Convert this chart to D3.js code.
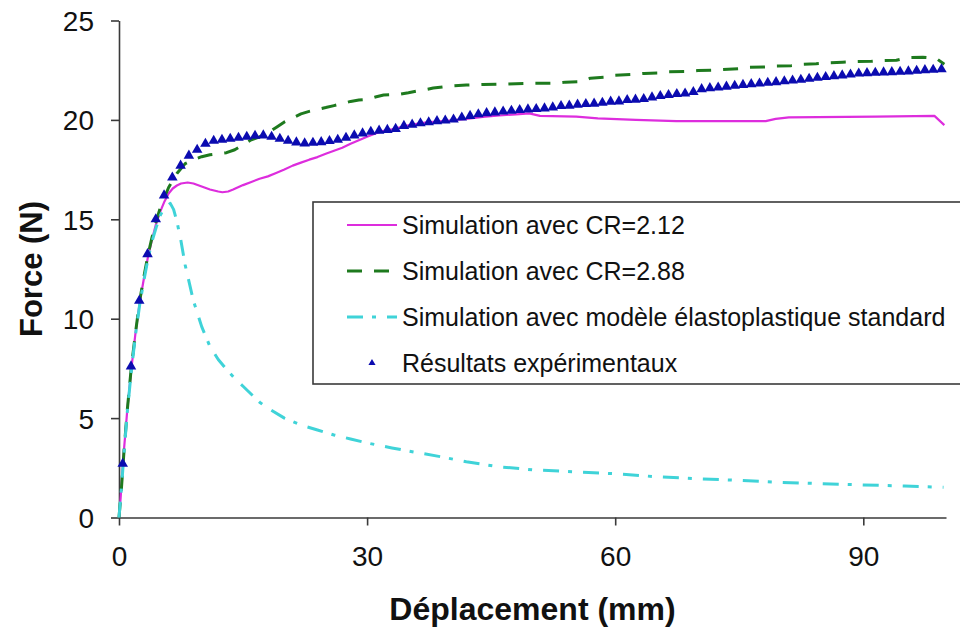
<!DOCTYPE html>
<html>
<head>
<meta charset="utf-8">
<script src="https://cdn.jsdelivr.net/npm/d3@7"></script>
<style>
  html, body { margin: 0; padding: 0; background: #fff; }
  svg { display: block; font-family: "Liberation Sans", Arial, sans-serif; }
</style>
</head>
<body>
<svg id="chart" width="960" height="628"></svg>
<script>
// ---- Data ----
const xTicks = [0, 30, 60, 90];
const yTicks = [0, 5, 10, 15, 20, 25];
const xTitle = "Déplacement (mm)";
const yTitle = "Force (N)";
const seriesNames = [
  "Simulation avec CR=2.12",
  "Simulation avec CR=2.88",
  "Simulation avec modèle élastoplastique standard",
  "Résultats expérimentaux"
];

// Simulation CR=2.12 (magenta)
const cr212X = [0,0.2,0.5,1,1.5,2,2.5,3,3.5,4,4.5,5,5.5,6,6.5,7,7.5,8.3,9,10,11,12,12.5,13.2,13.8,15,16,17,18,19,20,21,22,23,24,25,26,27,28,29,30,31,32,33,34,35,36,37,38,40,42,44,46,48,49.6,50.9,55.3,57.9,62.5,67.4,78.2,79.4,81,91.5,98.6,99.8];
const cr212Y = [0,1.0,2.9,5.4,7.5,9.3,10.8,12.0,13.1,14.0,14.8,15.4,15.9,16.3,16.55,16.7,16.8,16.85,16.8,16.65,16.5,16.4,16.36,16.4,16.5,16.72,16.88,17.04,17.16,17.33,17.5,17.7,17.85,18.0,18.13,18.3,18.45,18.6,18.8,18.98,19.15,19.32,19.45,19.53,19.63,19.73,19.8,19.86,19.9,19.97,20.05,20.15,20.22,20.28,20.33,20.2,20.16,20.08,20.0,19.94,19.94,20.05,20.13,20.16,20.2,19.74];

// Simulation CR=2.88 (green dashed)
const cr288X = [0,0.3,0.6,1,1.5,2,2.5,3,3.5,4,4.5,5,6,7,8,9,10,11,12,13,14,15,16,17,18,19,20,21,22,23,24,25,26,27,28,29,30,31,32,33,34,35,36,37,38,40,42,44,46,50,53,54,56,57,59,60,62.5,63.5,65.5,66.5,69,70,72,73,75,76,78.3,79.4,81.3,82.7,84.3,86,87.5,89,91,92,94,95.3,97.2,98.8,99.8];
const cr288Y = [0,1.5,3.3,5.4,7.6,9.3,10.9,12.1,13.2,14.1,14.9,15.6,16.6,17.3,17.8,18.0,18.15,18.25,18.3,18.35,18.5,18.75,19.0,19.15,19.35,19.62,19.9,20.1,20.3,20.43,20.53,20.62,20.72,20.82,20.93,21.0,21.03,21.15,21.25,21.27,21.3,21.37,21.45,21.52,21.6,21.7,21.75,21.78,21.8,21.84,21.85,21.9,21.92,22.1,22.15,22.25,22.3,22.34,22.36,22.42,22.44,22.48,22.5,22.53,22.58,22.64,22.66,22.71,22.73,22.8,22.83,22.88,22.9,22.93,22.95,22.98,23.0,23.13,23.15,23.1,22.8];

// Standard elastoplastic model (cyan dash-dot)
const stdX = [0,0.3,0.6,1,1.5,2,2.5,3,3.5,4,4.5,5,5.5,6.2,6.6,7,7.5,8,8.5,9,10,11,12,13,14,15,16,17,18,20,22,24,26,28,30,33,36,39,42,46,50,55,60,65,70,75,80,85,90,95,99.7];
const stdY = [0,1.5,3.2,5.3,7.4,9.2,10.7,11.9,13.0,13.9,14.6,15.2,15.6,15.8,15.5,14.9,13.9,12.7,11.8,10.9,9.6,8.6,7.95,7.45,7.0,6.6,6.2,5.8,5.5,5.0,4.65,4.4,4.15,3.95,3.75,3.5,3.27,3.05,2.8,2.55,2.4,2.3,2.2,2.05,1.95,1.87,1.77,1.7,1.64,1.58,1.52];

// Experimental results (triangles)
const expX = [0.45,1.45,2.45,3.45,4.45,5.45,6.45,7.45,8.45,9.45,10.45,11.45,12.45,13.45,14.45,15.45,16.45,17.45,18.45,19.45,20.45,21.45,22.45,23.45,24.45,25.45,26.45,27.45,28.45,29.45,30.45,31.45,32.45,33.45,34.45,35.45,36.45,37.45,38.45,39.45,40.45,41.45,42.45,43.45,44.45,45.45,46.45,47.45,48.45,49.45,50.45,51.45,52.45,53.45,54.45,55.45,56.45,57.45,58.45,59.45,60.45,61.45,62.45,63.45,64.45,65.45,66.45,67.45,68.45,69.45,70.45,71.45,72.45,73.45,74.45,75.45,76.45,77.45,78.45,79.45,80.45,81.45,82.45,83.45,84.45,85.45,86.45,87.45,88.45,89.45,90.45,91.45,92.45,93.45,94.45,95.45,96.45,97.45,98.45,99.45];
const expY = [2.7,7.6,10.9,13.25,15.0,16.2,17.1,17.7,18.2,18.5,18.8,18.95,19.0,19.05,19.1,19.15,19.2,19.22,19.15,19.05,18.95,18.87,18.82,18.85,18.88,18.94,19.0,19.1,19.22,19.32,19.4,19.46,19.5,19.55,19.7,19.76,19.83,19.88,19.94,19.97,20.02,20.12,20.2,20.28,20.34,20.38,20.42,20.46,20.5,20.53,20.55,20.58,20.63,20.7,20.72,20.77,20.8,20.82,20.86,20.92,20.93,21.0,21.02,21.05,21.13,21.2,21.25,21.3,21.33,21.4,21.55,21.6,21.63,21.67,21.72,21.76,21.8,21.83,21.87,21.9,21.94,21.98,22.02,22.07,22.12,22.16,22.2,22.24,22.28,22.33,22.35,22.37,22.39,22.4,22.42,22.44,22.47,22.5,22.52,22.55];

// ---- Drawing ----
const svg = d3.select("#chart");
const x = d3.scaleLinear().domain([0, 100]).range([119, 946]);
const y = d3.scaleLinear().domain([0, 25]).range([517.5, 20.5]);

const axisColor = "#3a3a3a";

// axes
const gx = svg.append("g").attr("transform", `translate(0,${y(0)})`)
  .call(d3.axisBottom(x).tickValues(xTicks).tickSize(8).tickPadding(21).tickSizeOuter(0));
const gy = svg.append("g").attr("transform", `translate(${x(0)},0)`)
  .call(d3.axisLeft(y).tickValues(yTicks).tickSize(8).tickPadding(17).tickSizeOuter(0));
[gx, gy].forEach(g => {
  g.select(".domain").attr("stroke", axisColor).attr("stroke-width", 1.6);
  g.selectAll(".tick line").attr("stroke", axisColor).attr("stroke-width", 1.6);
  g.selectAll(".tick text").attr("fill", "#111").style("font-size", "28px")
    .style("font-family", "'Liberation Sans', Arial, sans-serif");
});
gy.selectAll(".tick text").attr("dy", "0.36em");

// axis titles
svg.append("text").attr("x", (x(0) + x(100)) / 2).attr("y", 620)
  .attr("text-anchor", "middle").style("font-size", "32px").style("font-weight", "bold")
  .attr("fill", "#111").text(xTitle);
svg.append("text").attr("transform", `translate(42,${(y(0) + y(25)) / 2}) rotate(-90)`)
  .attr("text-anchor", "middle").style("font-size", "31px").style("font-weight", "bold")
  .attr("fill", "#111").text(yTitle);

const line = d3.line().x(d => x(d[0])).y(d => y(d[1]));
const zip = (a, b) => a.map((v, i) => [v, b[i]]);

const styles = [
  { color: "#dd2ddd", width: 2.2, dash: null },
  { color: "#1e7a1e", width: 3, dash: "15,12" },
  { color: "#3fd3d8", width: 3, dash: "16,9,4,11" }
];
const lineData = [zip(cr212X, cr212Y), zip(cr288X, cr288Y), zip(stdX, stdY)];

lineData.forEach((d, i) => {
  svg.append("path").datum(d).attr("d", line)
    .attr("fill", "none").attr("stroke", styles[i].color)
    .attr("stroke-width", styles[i].width)
    .attr("stroke-dasharray", styles[i].dash)
    .attr("stroke-linejoin", "round");
});

const triColor = "#0b0bb0";
const tri = d3.symbol().type(d3.symbolTriangle).size(48);
svg.append("g").selectAll("path").data(zip(expX, expY)).join("path")
  .attr("d", tri)
  .attr("transform", d => `translate(${x(d[0])},${y(d[1])})`)
  .attr("fill", triColor);

// legend
const lg = svg.append("g");
lg.append("rect").attr("x", 313).attr("y", 202).attr("width", 660).attr("height", 182)
  .attr("fill", "#fff").attr("stroke", axisColor).attr("stroke-width", 1.6);
const rowsY = [225, 271, 317, 363];
seriesNames.forEach((name, i) => {
  const ry = rowsY[i];
  if (i < 3) {
    lg.append("line").attr("x1", 347).attr("x2", 397).attr("y1", ry).attr("y2", ry)
      .attr("stroke", styles[i].color).attr("stroke-width", styles[i].width)
      .attr("stroke-dasharray", styles[i].dash);
  } else {
    lg.append("path").attr("d", d3.symbol().type(d3.symbolTriangle).size(22))
      .attr("transform", `translate(372,${ry})`).attr("fill", triColor);
  }
  lg.append("text").attr("x", 402).attr("y", ry).attr("dy", "0.36em")
    .style("font-size", "25px").attr("fill", "#111").text(name);
});
</script>
</body>
</html>
